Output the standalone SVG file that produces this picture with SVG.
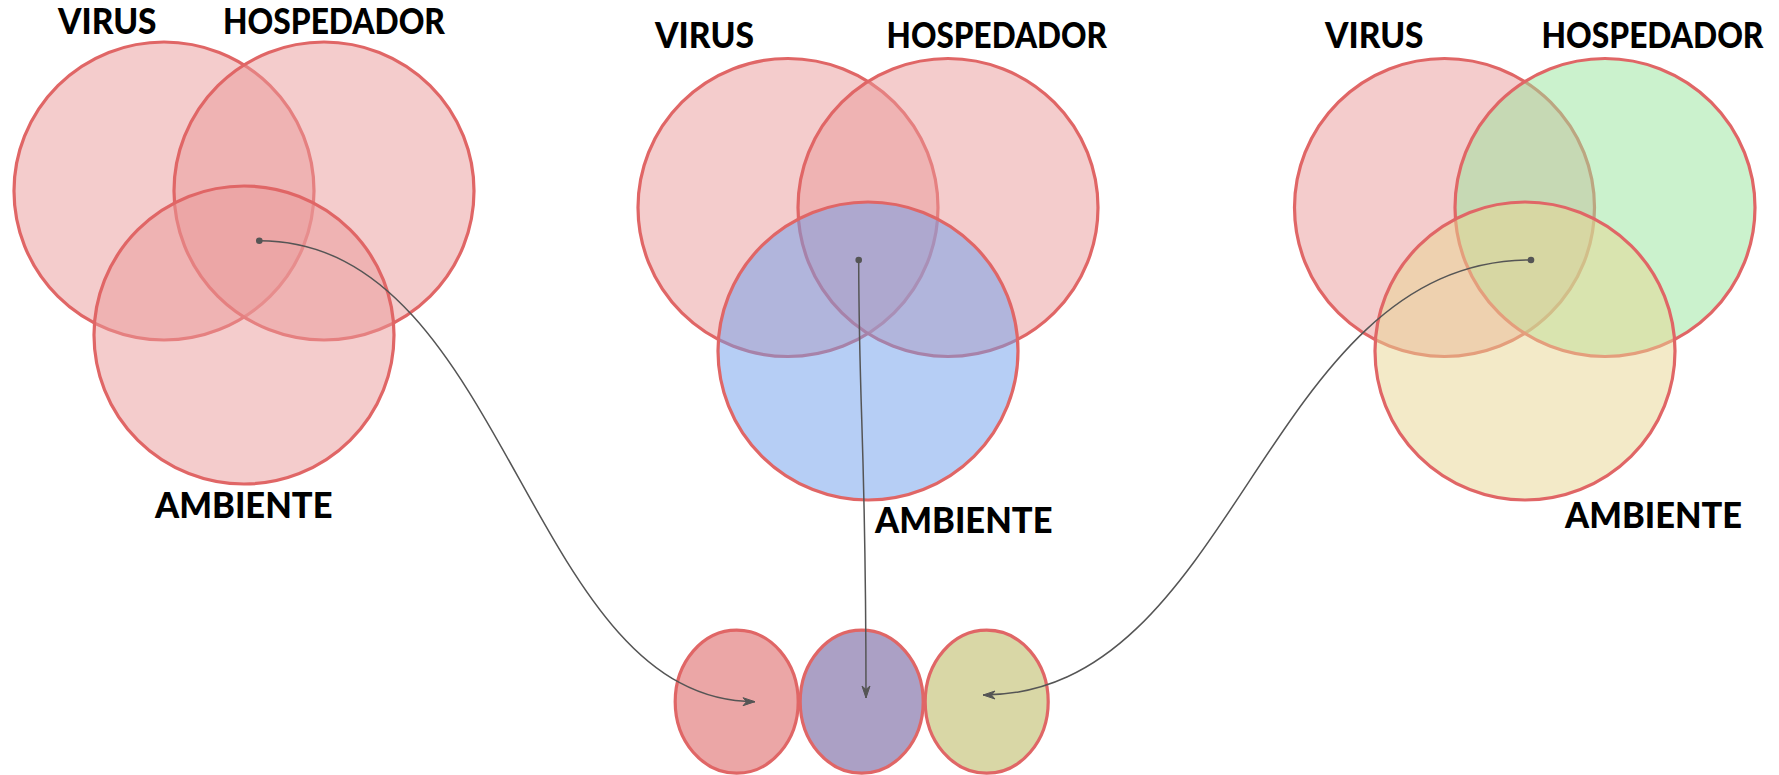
<svg xmlns="http://www.w3.org/2000/svg" width="1779" height="775" viewBox="0 0 1779 775">
  <style>
    .c { stroke: #e06666; stroke-width: 3.2; }
    .pink { fill: #ea9999; fill-opacity: 0.5; }
    .blue { fill: #6d9eeb; fill-opacity: 0.5; }
    .green { fill: #97e59b; fill-opacity: 0.5; }
    .amber { fill: #e7d591; fill-opacity: 0.5; }
    .lbl { font-family: Lato, Roboto, "DejaVu Sans", sans-serif; font-weight: 900; font-size: 36px; fill: #000000; }
    .edge { fill: none; stroke: #555555; stroke-width: 1.5; }
    .dot { fill: #555555; }
  </style>
  <defs>
    <marker id="arrow" markerUnits="userSpaceOnUse" markerWidth="14" markerHeight="10" viewBox="0 0 14 10" refX="13" refY="5" orient="auto">
      <path d="M1,1 L13,5 L1,9 L4.5,5 Z" fill="#555555" stroke="#555555" stroke-width="1" stroke-linejoin="miter"/>
    </marker>
  </defs>
  <rect x="0" y="0" width="1779" height="775" fill="#ffffff"/>

  <!-- Left Venn -->
  <g id="left-venn">
    <g id="left-virus">
      <ellipse class="c pink" cx="164" cy="191" rx="150" ry="149"/>
      <text class="lbl" transform="translate(58,34.3) scale(0.89,1)" textLength="110.7" lengthAdjust="spacingAndGlyphs">VIRUS</text>
    </g>
    <g id="left-hospedador">
      <ellipse class="c pink" cx="324" cy="191" rx="150" ry="149"/>
      <text class="lbl" transform="translate(223,34.3) scale(0.89,1)" textLength="249.4" lengthAdjust="spacingAndGlyphs">HOSPEDADOR</text>
    </g>
    <g id="left-ambiente">
      <ellipse class="c pink" cx="244" cy="335" rx="150" ry="149"/>
      <text class="lbl" transform="translate(155,518.3) scale(0.89,1)" textLength="199.4" lengthAdjust="spacingAndGlyphs">AMBIENTE</text>
    </g>
  </g>

  <!-- Middle Venn -->
  <g id="middle-venn">
    <g id="middle-virus">
      <ellipse class="c pink" cx="788" cy="207.5" rx="150" ry="149"/>
      <text class="lbl" transform="translate(655,48.3) scale(0.89,1)" textLength="111.2" lengthAdjust="spacingAndGlyphs">VIRUS</text>
    </g>
    <g id="middle-hospedador">
      <ellipse class="c pink" cx="948" cy="207.5" rx="150" ry="149"/>
      <text class="lbl" transform="translate(886.5,48.3) scale(0.89,1)" textLength="247.8" lengthAdjust="spacingAndGlyphs">HOSPEDADOR</text>
    </g>
    <g id="middle-ambiente">
      <ellipse class="c blue" cx="868" cy="351" rx="150" ry="149"/>
      <text class="lbl" transform="translate(875,533.3) scale(0.89,1)" textLength="199.4" lengthAdjust="spacingAndGlyphs">AMBIENTE</text>
    </g>
  </g>

  <!-- Right Venn -->
  <g id="right-venn">
    <g id="right-virus">
      <ellipse class="c pink" cx="1444.5" cy="207.5" rx="150" ry="149"/>
      <text class="lbl" transform="translate(1325,47.8) scale(0.89,1)" textLength="110.7" lengthAdjust="spacingAndGlyphs">VIRUS</text>
    </g>
    <g id="right-hospedador">
      <ellipse class="c green" cx="1605" cy="207.5" rx="150" ry="149"/>
      <text class="lbl" transform="translate(1541.5,47.8) scale(0.89,1)" textLength="249.4" lengthAdjust="spacingAndGlyphs">HOSPEDADOR</text>
    </g>
    <g id="right-ambiente">
      <ellipse class="c amber" cx="1525" cy="351" rx="150" ry="149"/>
      <text class="lbl" transform="translate(1565,528.3) scale(0.89,1)" textLength="198.9" lengthAdjust="spacingAndGlyphs">AMBIENTE</text>
    </g>
  </g>

  <!-- Result circles -->
  <g id="result-1">
    <ellipse class="c" fill="#eba6a6" cx="736.7" cy="701.7" rx="61.5" ry="71.5"/>
  </g>
  <g id="result-2">
    <ellipse class="c" fill="#aba0c5" cx="861.7" cy="701.7" rx="61.5" ry="71.5"/>
  </g>
  <g id="result-3">
    <ellipse class="c" fill="#d9d7a6" cx="986.7" cy="701.7" rx="61.5" ry="71.5"/>
  </g>

  <!-- Connectors -->
  <g id="connectors">
    <path class="edge" d="M259.3,240.7 C509,240.7 526,701.7 755,701.7" marker-end="url(#arrow)"/>
    <circle class="dot" cx="259.3" cy="240.7" r="3.3"/>
    <path class="edge" d="M858.7,260 C859,420 866,440 866,698" marker-end="url(#arrow)"/>
    <circle class="dot" cx="858.7" cy="260" r="3.3"/>
    <path class="edge" d="M1531,260 C1263,260 1237,695 983,695" marker-end="url(#arrow)"/>
    <circle class="dot" cx="1531" cy="260" r="3.3"/>
  </g>
</svg>
